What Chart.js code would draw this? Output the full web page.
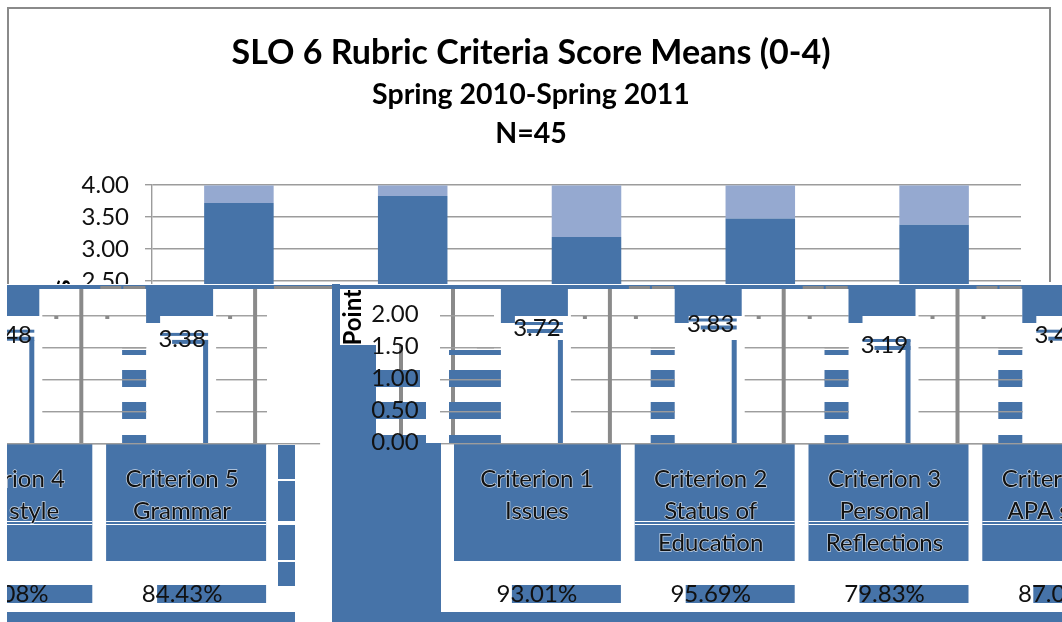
<!DOCTYPE html>
<html><head><meta charset="utf-8">
<style>html,body{margin:0;padding:0;background:#fff}canvas{display:block}</style>
<script src="https://cdn.jsdelivr.net/npm/chart.js@4"></script>
</head><body><canvas id="c" width="1062" height="622"></canvas>
<script>
const categories = ["Criterion 1", "Criterion 2", "Criterion 3", "Criterion 4", "Criterion 5"];
const subLabels = [["Issues"], ["Status of", "Education"], ["Personal", "Reflections"], ["APA style"], ["Grammar"]];
const means = [3.72, 3.83, 3.19, 3.48, 3.38];
const remainders = [0.28, 0.17, 0.81, 0.52, 0.62];
const percents = ["93.01%", "95.69%", "79.83%", "87.08%", "84.43%"];
const titleText = "SLO 6 Rubric Criteria Score Means (0-4)";
const subtitleLines = ["Spring 2010-Spring 2011", "N=45"];
const axisTitle = "Points";

const BLUE = "#4673A8", LIGHT = "#95A9D0", GREY = "#8A8A8A", GRID = "#9C9C9C", INK = "#111";
const FONT = "Lato, 'Open Sans', sans-serif";

const tornLayout = {
  id: "tornLayout",
  beforeDraw(chart) {
    const g = chart.ctx;
    g.save(); g.fillStyle = "#fff"; g.fillRect(0, 0, 1062, 622); g.restore();
  },
  afterDraw(chart) {
    const g = chart.ctx, xs = chart.scales.x, ys = chart.scales.y;
    const rect = (c, x, y, w, h) => { g.fillStyle = c; g.fillRect(x, y, w, h); };
    g.save();
    // frame of the upper, intact part
    g.strokeStyle = GREY; g.lineWidth = 2;
    g.beginPath(); g.moveTo(8, 284); g.lineTo(8, 8); g.lineTo(1050, 8); g.lineTo(1050, 282); g.stroke();
    // lower part: the picture is displaced sideways and wraps round
    rect("#fff", 0, 284, 1062, 338);
    g.beginPath(); g.rect(7, 284, 1055, 338); g.clip();
    const SHIFT = 298, WRAP = 1050;
    rect(BLUE, 7, 285, 1055, 4);
    const lowGrid = ys.ticks.filter(t => t.value <= 2);
    const copies = [];
    means.forEach((m, i) => {
      let c = xs.getPixelForValue(i) + SHIFT;
      if (c > WRAP + 60) c -= WRAP;
      copies.push({ i, c });
      if (c > WRAP) copies.push({ i, c: c - WRAP });
    });
    copies.forEach(({ i, c }) => {
      lowGrid.forEach(t => rect(GRID, c + 34, ys.getPixelForValue(t.value) + 2, 104, 1.4));
      rect(BLUE, c - 36, 285, 67, 31);
      rect(BLUE, c - 36, 316, 14, 7);
      rect(BLUE, c + 21, 340, 5, 103);
      rect(GREY, c + 71, 289, 4, 154);
      rect(GREY, c + 92, 286, 21, 3);
      rect(GREY, c + 115, 286, 22, 3);
      rect(GREY, c + 46, 316, 4, 3);
      rect(GREY, c + 97, 316, 4, 3);
      rect(BLUE, c - 60, 350, 24, 5);
      rect(BLUE, c - 60, 370, 24, 17);
      rect(BLUE, c - 60, 402, 24, 17);
      rect(BLUE, c - 60, 435, 24, 8);
      lowGrid.slice(0, 4).forEach(t => { if (t.value > 0) rect(GRID, c - 60, ys.getPixelForValue(t.value) + 2, 24, 1.4); });
    });
    // blank strip and displaced axis
    rect("#fff", 267, 289, 65, 154);
    rect(GREY, 274, 286, 58, 3);
    rect(BLUE, 332, 284, 8, 62);
    rect("#fff", 340, 289, 110, 56);
    rect(BLUE, 332, 345, 44, 98);
    rect("#fff", 376, 345, 76, 98);
    rect(GREY, 399, 345, 4, 98);
    rect(GREY, 451, 289, 4, 154);
    rect(BLUE, 376, 370, 44, 17);
    rect(BLUE, 376, 402, 50, 17);
    rect(BLUE, 376, 435, 50, 8);
    rect(BLUE, 449, 350, 45, 5);
    rect(BLUE, 449, 370, 45, 17);
    rect(BLUE, 449, 402, 45, 17);
    rect(BLUE, 449, 435, 45, 8);
    lowGrid.forEach(t => rect(GRID, 440, ys.getPixelForValue(t.value) + 2, 54, 1.4));
    // table cells
    copies.forEach(({ i, c }) => {
      rect(BLUE, i === 0 ? 454 : c - 76, 443, i === 0 ? c + 84 - 454 : 160, 118);
      if (i !== 0) { rect("#fff", c - 76, 521, 160, 1); rect("#fff", c - 76, 524, 160, 1); }
      rect(BLUE, c - 25, 585, 109, 18);
    });
    [[445, 34], [481, 40], [525, 35], [562, 24]].forEach(([y, h]) => rect(BLUE, 278, y, 17, h));
    rect(BLUE, 332, 443, 109, 169);
    rect(BLUE, 7, 612, 288, 10);
    rect(BLUE, 332, 612, 730, 10);
    const base = ys.getPixelForValue(0) + 2;
    rect(GRID, 7, base, 260, 1.4);
    rect(GRID, 454, base, 608, 1.4);
    // displaced axis text
    g.fillStyle = INK; g.textBaseline = "middle";
    g.textAlign = "center";
    g.font = "24px " + FONT;
    ys.ticks.filter(t => t.value <= 2).forEach(t => g.fillText(t.label, 395, ys.getPixelForValue(t.value) + 1));
    g.save();
    g.beginPath(); g.rect(335, 290, 40, 60); g.clip();
    g.translate(353, 312); g.rotate(-Math.PI / 2);
    g.fillStyle = "#000"; g.font = "bold 24px " + FONT;
    g.fillText(axisTitle, 0, 0);
    g.restore();
    // displaced labels
    copies.forEach(({ i, c }) => {
      const ly = ys.getPixelForValue(means[i] / 2) + 6;
      rect(BLUE, c - 22, ly - 6, 48, 3);
      rect(BLUE, c - 10, ly + 1, 36, 4);
      g.font = "24px " + FONT; g.textAlign = "center";
      g.fillStyle = INK;
      g.fillText(means[i].toFixed(2), c, ly);
      g.strokeStyle = "rgba(255,255,255,.7)"; g.lineWidth = 1.4;
      const lines = [categories[i]].concat(subLabels[i]);
      lines.forEach((s, k) => {
        const y = 479 + k * 32;
        g.strokeText(s, c, y);
        g.fillStyle = INK; g.fillText(s, c, y);
      });
      g.fillText(percents[i], c, 594);
    });
    g.restore();
  }
};

new Chart(document.getElementById("c"), {
  type: "bar",
  plugins: [tornLayout],
  data: {
    labels: categories,
    datasets: [
      { label: "Mean", data: means, backgroundColor: BLUE, stack: "s", barPercentage: 0.4, categoryPercentage: 1 },
      { label: "Remainder", data: remainders, backgroundColor: LIGHT, stack: "s", barPercentage: 0.4, categoryPercentage: 1 }
    ]
  },
  options: {
    responsive: false, animation: false, devicePixelRatio: 1,
    layout: { padding: { top: 0, left: 0, right: 0, bottom: 181 } },
    plugins: {
      legend: { display: false }, tooltip: { enabled: false },
      title: { display: true, text: titleText, color: "#000",
        font: { family: FONT, size: 34, weight: "bold", lineHeight: 1.06 }, padding: { top: 35, bottom: 4 } },
      subtitle: { display: true, text: subtitleLines, color: "#000",
        font: { family: FONT, size: 28.5, weight: "bold", lineHeight: 1.37 }, padding: { top: 0, bottom: 32 } }
    },
    scales: {
      x: { display: false, stacked: true },
      y: {
        stacked: true, min: 0, max: 4,
        afterFit(s) { s.width = 152; },
        border: { color: GRID, width: 1.4 },
        grid: { color: GRID, lineWidth: 1.4, tickLength: 7 },
        ticks: { stepSize: 0.5, color: INK, padding: 16, font: { family: FONT, size: 24 },
          callback: v => v.toFixed(2) },
        title: { display: true, text: axisTitle, color: "#000", padding: { top: 48, bottom: 0 },
          font: { family: FONT, size: 24, weight: "bold" } }
      },
      rightGap: {
        type: "linear", position: "right", display: true,
        afterFit(s) { s.width = 41; },
        border: { display: false }, grid: { display: false }, ticks: { display: false }
      }
    }
  }
});
</script></body></html>
